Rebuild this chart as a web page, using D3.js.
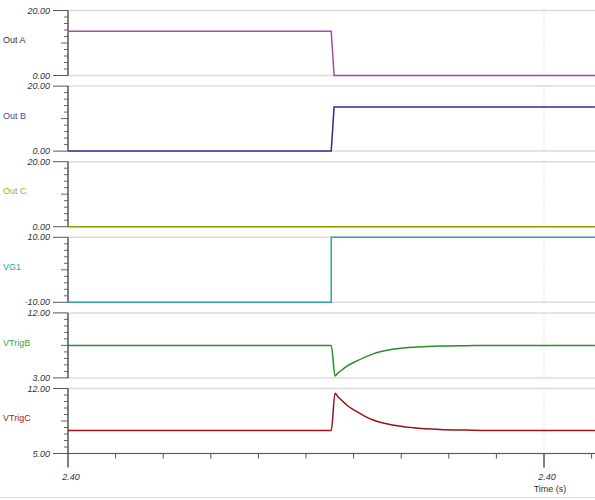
<!DOCTYPE html>
<html><head><meta charset="utf-8">
<script src="https://cdn.jsdelivr.net/npm/d3@7"></script>
<style>
html,body{margin:0;padding:0;background:#fff;}
svg{display:block;font-family:"Liberation Sans",Arial,sans-serif;}
</style></head>
<body><svg id="c" width="595" height="500"></svg>
<script>
// ---- data ----
const panelNames = ["Out A", "Out B", "Out C", "VG1", "VTrigB", "VTrigC"];
const panelMin = [0, 0, 0, -10, 3, 5];
const panelMax = [20, 20, 20, 10, 12, 12];
const yTickLabels = [["20.00","0.00"],["20.00","0.00"],["20.00","0.00"],["10.00","-10.00"],["12.00","3.00"],["12.00","5.00"]];

const timeOutA = [2.400000, 2.400553, 2.400559, 2.401107];
const outA     = [13.6, 13.6, 0, 0];
const timeOutB = [2.400000, 2.400553, 2.400559, 2.401107];
const outB     = [0, 0, 13.6, 13.6];
const timeOutC = [2.400000, 2.401107];
const outC     = [0, 0];
const timeVG1  = [2.400000, 2.400553, 2.400553, 2.401107];
const vg1      = [-10, -10, 10, 10];
const timeTrig = [2.400000, 2.400553, 2.400561, 2.400567, 2.400576, 2.400586, 2.400607, 2.400624, 2.400641, 2.400676, 2.400725, 2.400782, 2.400838, 2.400887, 2.401107];
const vTrigB   = [7.5, 7.5, 3.28, 3.67, 4.13, 4.63, 5.35, 5.88, 6.33, 6.9, 7.26, 7.4, 7.46, 7.5, 7.5];
const vTrigC   = [7.48, 7.48, 11.49, 11.12, 10.68, 10.20, 9.5, 9.0, 8.6, 8.13, 7.78, 7.59, 7.52, 7.48, 7.48];

const xMajorTicks = [2.400, 2.401];
const xMinorTicks = [2.4001,2.4002,2.4003,2.4004,2.4005,2.4006,2.4007,2.4008,2.4009,2.4011];
const xTitle = "Time (s)";

const seriesTimes = [timeOutA, timeOutB, timeOutC, timeVG1, timeTrig, timeTrig];
const seriesVals  = [outA, outB, outC, vg1, vTrigB, vTrigC];
const smooth      = [false, false, false, false, true, true];

// ---- styles ----
const lineColors  = ["#a64ca6", "#2a2a9c", "#9a9a00", "#33a3a3", "#2a8c2a", "#951515"];
const labelColors = ["#333333", "#4646b4", "#a8a830", "#2aa6a6", "#3aa63a", "#a82222"];

const svg = d3.select("#c");
const left = 68, right = 595;
const top0 = 10.5, step = 75.6, ph = 65;

const x = d3.scaleLinear().domain([2.400, 2.401]).range([left, 544]);

panelNames.forEach((name, i) => {
  const t = top0 + i * step, b = t + ph;
  const y = d3.scaleLinear().domain([panelMin[i], panelMax[i]]).range([b, t]);
  const g = svg.append("g");

  // top/bottom grid lines
  [t, b].forEach(yy => g.append("line")
    .attr("x1", left).attr("x2", right).attr("y1", yy).attr("y2", yy)
    .attr("stroke", "#dcdcdc").attr("stroke-width", 1.5));

  // dotted vertical line at major tick
  g.append("line").attr("x1", x(2.401)).attr("x2", x(2.401))
    .attr("y1", t).attr("y2", b)
    .attr("stroke", "#cfcfcf").attr("stroke-dasharray", "1,2");

  // y axis with minor ticks
  const range = panelMax[i] - panelMin[i];
  const minor = d3.range(1, 10).map(k => panelMin[i] + range * k / 10);
  g.selectAll(".mt").data(minor).enter().append("line")
    .attr("x1", (d, k) => k === 4 ? left - 7 : left - 4).attr("x2", left)
    .attr("y1", d => y(d)).attr("y2", d => y(d))
    .attr("stroke", "#666").attr("stroke-width", 1);
  [panelMax[i], panelMin[i]].forEach((v, k) => {
    g.append("line").attr("x1", left - 15).attr("x2", left)
      .attr("y1", y(v)).attr("y2", y(v)).attr("stroke", "#555").attr("stroke-width", 1);
    g.append("text").attr("x", left - 18).attr("y", y(v)).attr("dy", "0.35em")
      .attr("text-anchor", "end").attr("font-size", 9).attr("font-style", "italic")
      .attr("fill", "#333").text(yTickLabels[i][k]);
  });
  g.append("line").attr("x1", left).attr("x2", left).attr("y1", t).attr("y2", b)
    .attr("stroke", "#555").attr("stroke-width", 1.5);

  // series label
  g.append("text").attr("x", 3).attr("y", (t + b) / 2 - 3).attr("dy", "0.35em")
    .attr("font-size", 9).attr("fill", labelColors[i]).text(name);

  // series line
  const pts = seriesTimes[i].map((tt, k) => [tt, seriesVals[i][k]]);
  g.append("path").datum(pts)
    .attr("fill", "none").attr("stroke", lineColors[i]).attr("stroke-width", 1.5)
    .attr("d", d3.line().curve(smooth[i] ? d3.curveMonotoneX : d3.curveLinear)
      .x(d => x(d[0])).y(d => y(d[1])));
});

// x axis
const yb = top0 + 5 * step + ph;
const ax = svg.append("g");
ax.append("line").attr("x1", left).attr("x2", right).attr("y1", yb).attr("y2", yb)
  .attr("stroke", "#555").attr("stroke-width", 1.2);
ax.selectAll(".xm").data(xMinorTicks).enter().append("line")
  .attr("x1", d => x(d)).attr("x2", d => x(d)).attr("y1", yb).attr("y2", yb + 5)
  .attr("stroke", "#555");
xMajorTicks.forEach(v => {
  ax.append("line").attr("x1", x(v)).attr("x2", x(v)).attr("y1", yb).attr("y2", yb + 14)
    .attr("stroke", "#555").attr("stroke-width", 1.5);
  ax.append("text").attr("x", x(v) + 3).attr("y", yb + 23).attr("dy", "0.35em")
    .attr("text-anchor", "middle").attr("font-size", 9).attr("font-style", "italic")
    .attr("fill", "#333").text(d3.format(".2f")(v));
});
ax.append("text").attr("x", x(2.401) + 6).attr("y", yb + 35).attr("dy", "0.35em")
  .attr("text-anchor", "middle").attr("font-size", 9).attr("fill", "#333").text(xTitle);

// bottom frame line
svg.append("line").attr("x1", 0).attr("x2", 595).attr("y1", 497.5).attr("y2", 497.5)
  .attr("stroke", "#dcdcdc").attr("stroke-width", 1);
</script></body></html>
